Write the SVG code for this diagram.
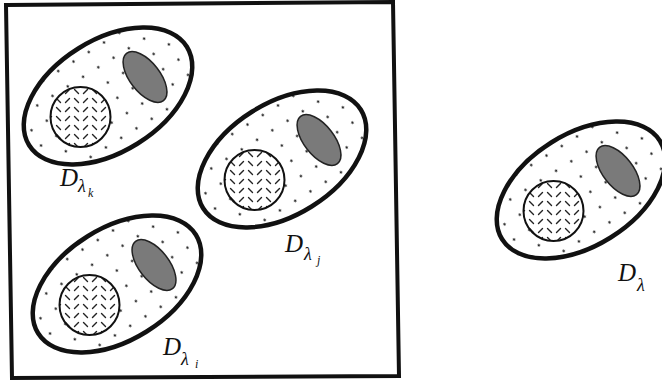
<svg xmlns="http://www.w3.org/2000/svg" width="662" height="383" viewBox="0 0 662 383">
<style>
.outer{stroke:#111;stroke-width:4.5;fill:url(#dots)}
.cell{stroke:#111;stroke-width:2;fill:url(#hatch)}
.dark{stroke:#222;stroke-width:1.5;fill:#7a7a7a}
.frame{fill:none;stroke:#111;stroke-width:4}
.lbl{font-family:"Liberation Serif","Times New Roman",serif;font-style:italic;fill:#111}
.D{font-size:25px}
.lam{font-size:18px}
.sub{font-size:12px}
</style>
<defs>
<pattern id="dots" patternUnits="userSpaceOnUse" width="18" height="18">
<rect width="18" height="18" fill="#fff"/>
<circle cx="7" cy="6.5" r="1.2" fill="#222"/>
</pattern>
<pattern id="hatch" patternUnits="userSpaceOnUse" width="18" height="18">
<rect width="18" height="18" fill="#fff"/>
<g stroke="#222" stroke-width="1.4" stroke-linecap="round">
<line x1="2.5" y1="2.5" x2="6.5" y2="6.5"/>
<line x1="11.5" y1="15.5" x2="15.5" y2="11.5"/>
<line x1="11.5" y1="6.5" x2="15.5" y2="2.5"/>
<line x1="2.5" y1="11.5" x2="6.5" y2="15.5"/>
</g>
</pattern>
<g id="cellshape">
<ellipse class="outer" cx="0" cy="0" rx="93" ry="56" transform="rotate(-32)"/>
<circle class="cell" cx="-27.5" cy="21" r="30"/>
<ellipse class="dark" cx="37" cy="-19" rx="30" ry="15" transform="rotate(52 37 -19)"/>
</g>
</defs>
<polygon id="frame" class="frame" points="6,5 393,2 399,376 12,378"/>
<g id="node-k">
<use href="#cellshape" transform="translate(108 96)"/>
<text class="lbl" x="60" y="186"><tspan class="D">D</tspan></text>
<text class="lbl" x="78" y="192"><tspan class="lam">λ</tspan></text>
<text class="lbl" x="88" y="197"><tspan class="sub">k</tspan></text>
</g>
<g id="node-j">
<use href="#cellshape" transform="translate(282 159)"/>
<text class="lbl" x="285" y="252"><tspan class="D">D</tspan></text>
<text class="lbl" x="304" y="260"><tspan class="lam">λ</tspan></text>
<text class="lbl" x="317" y="264"><tspan class="sub">j</tspan></text>
</g>
<g id="node-i">
<use href="#cellshape" transform="translate(117 284)"/>
<text class="lbl" x="163" y="355"><tspan class="D">D</tspan></text>
<text class="lbl" x="181" y="365"><tspan class="lam">λ</tspan></text>
<text class="lbl" x="195" y="368"><tspan class="sub">i</tspan></text>
</g>
<g id="node-lambda">
<use href="#cellshape" transform="translate(581 190)"/>
<text class="lbl" x="618" y="281"><tspan class="D">D</tspan></text>
<text class="lbl" x="637" y="291"><tspan class="lam">λ</tspan></text>
</g>
<g id="connectors"/>
</svg>
